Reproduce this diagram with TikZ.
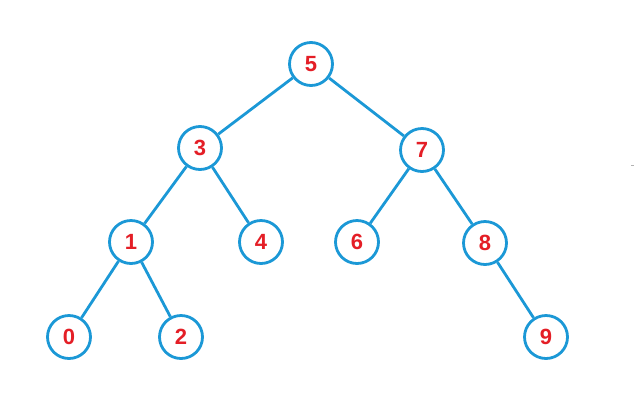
\documentclass[tikz,border=0pt]{standalone}
\usepackage{fontspec}
\setmainfont{Liberation Sans}
\definecolor{treeblue}{RGB}{27,152,214}
\definecolor{treered}{RGB}{228,30,38}
\tikzset{
  tnode/.style={circle, draw=treeblue, line width=2.8pt, fill=white, minimum size=43pt, inner sep=0pt,
    text=treered, font=\fontsize{22}{22}\selectfont\bfseries},
  tedge/.style={draw=treeblue, line width=2.8pt}
}
\begin{document}
\begin{tikzpicture}[x=1pt,y=-1pt]
\useasboundingbox (0,0) rectangle (636,413);
\coordinate (m1) at (631,165);
\coordinate (m2) at (634,165);
\draw[gray!60, line width=0.8pt] (m1) -- (m2);
\node[tnode] (n5) at (311,64) {5};
\node[tnode] (n3) at (200,148) {3};
\node[tnode] (n7) at (422,150) {7};
\node[tnode] (n1) at (131,242) {1};
\node[tnode] (n4) at (261,242) {4};
\node[tnode] (n6) at (357,242) {6};
\node[tnode] (n8) at (485,243) {8};
\node[tnode] (n0) at (69,337) {0};
\node[tnode] (n2) at (181,337) {2};
\node[tnode] (n9) at (546,337) {9};
\draw[tedge] (n5) -- (n3);
\draw[tedge] (n5) -- (n7);
\draw[tedge] (n3) -- (n1);
\draw[tedge] (n3) -- (n4);
\draw[tedge] (n7) -- (n6);
\draw[tedge] (n7) -- (n8);
\draw[tedge] (n1) -- (n0);
\draw[tedge] (n1) -- (n2);
\draw[tedge] (n8) -- (n9);
\end{tikzpicture}
\end{document}
